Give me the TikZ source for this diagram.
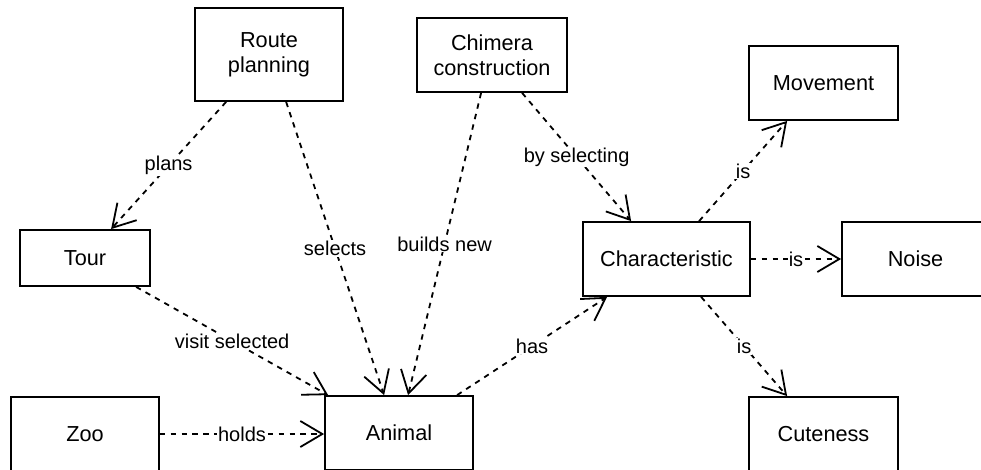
\documentclass[tikz,border=0pt]{standalone}
\usepackage{fontspec}
\setmainfont{Liberation Sans}
\usetikzlibrary{arrows.meta}
\begin{document}
\begin{tikzpicture}[x=1pt,y=-1pt,
  box/.style={draw, line width=1.8pt, inner sep=0pt, align=center,
    font=\fontsize{21.7}{25}\selectfont},
  rel/.style={draw, line width=1.8pt, dash pattern=on 5.4pt off 5.4pt,
    -{Straight Barb[length=22pt,width=26pt]}},
  lbl/.style={fill=white, inner sep=1pt, font=\fontsize{20}{22}\selectfont}]
\useasboundingbox (0,0) rectangle (981,469);
\clip (0,0) rectangle (981,469);

% concepts
\node[box, minimum width=148pt, minimum height=93pt] (route) at (269,54.5) {Route\\planning};
\node[box, minimum width=150pt, minimum height=74pt] (chimera) at (492,55) {Chimera\\construction};
\node[box, minimum width=149pt, minimum height=74pt] (movement) at (823.5,83) {Movement};
\node[box, minimum width=130pt, minimum height=56pt] (tour) at (85,258) {Tour};
\node[box, minimum width=167pt, minimum height=74pt] (char) at (666.5,259) {Characteristic};
\node[box, minimum width=147pt, minimum height=74pt] (noise) at (915.5,259) {Noise};
\node[box, minimum width=148pt, minimum height=74pt] (zoo) at (85,434) {Zoo};
\node[box, minimum width=148pt, minimum height=74pt] (animal) at (399,433) {Animal};
\node[box, minimum width=149pt, minimum height=74pt] (cute) at (823.5,434) {Cuteness};

% relations
\draw[rel] ([xshift=32pt]route.south west) -- node[lbl]{plans} ([xshift=92pt]tour.north west);
\draw[rel] ([xshift=92pt]route.south west) -- node[lbl]{selects} ([xshift=60pt]animal.north west);
\draw[rel] ([xshift=65pt]chimera.south west) -- node[lbl]{builds new} ([xshift=84pt]animal.north west);
\draw[rel] ([xshift=106pt]chimera.south west) -- node[lbl]{by selecting} ([xshift=49pt]char.north west);
\draw[rel] ([xshift=117pt]tour.south west) -- node[lbl]{visit selected} ([xshift=4pt]animal.north west);
\draw[rel] (zoo.east) -- node[lbl]{holds} (zoo.east -| animal.west);
\draw[rel] ([xshift=133pt]animal.north west) -- node[lbl]{has} ([xshift=25pt]char.south west);
\draw[rel] ([xshift=117pt]char.north west) -- node[lbl]{is} ([xshift=39pt]movement.south west);
\draw[rel] (char.east) -- node[lbl]{is} (noise.west);
\draw[rel] ([xshift=119pt]char.south west) -- node[lbl]{is} ([xshift=39pt]cute.north west);
\end{tikzpicture}
\end{document}
